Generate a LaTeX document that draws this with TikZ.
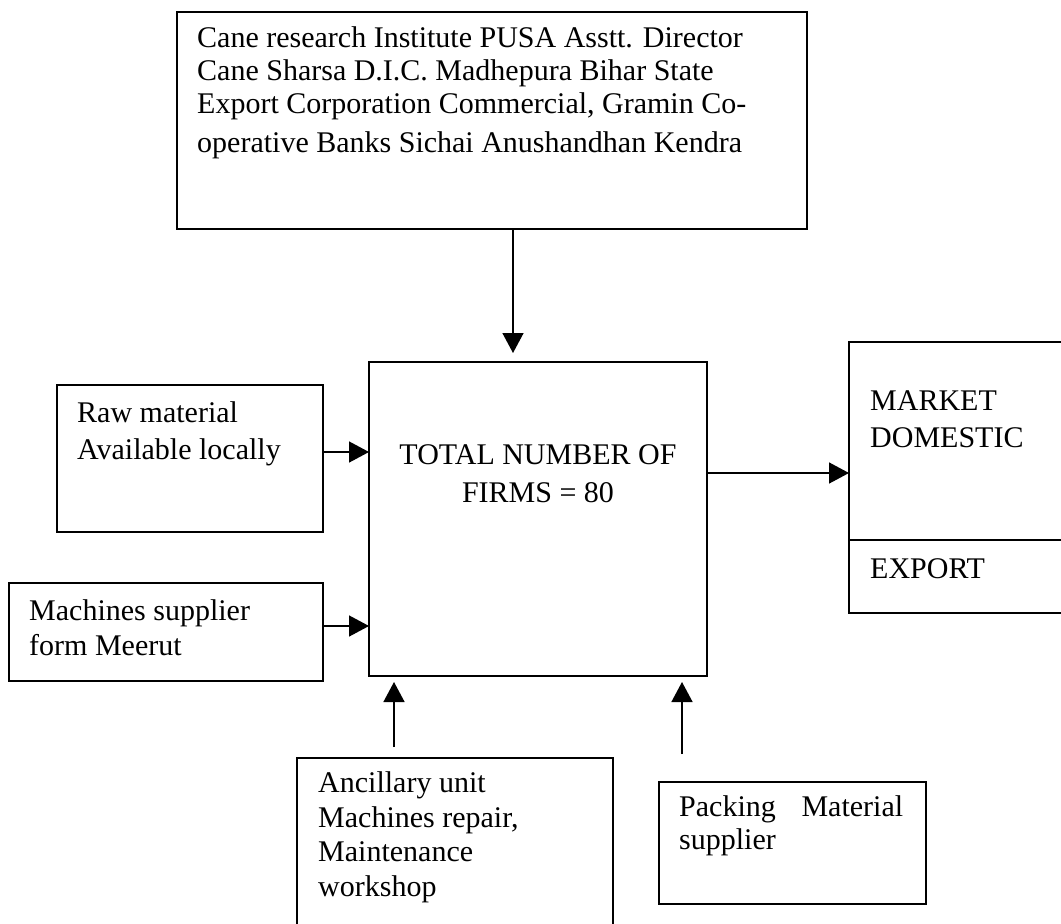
\documentclass[tikz,border=0pt]{standalone}
\usepackage{fontspec}
\setmainfont{Liberation Serif}
\usetikzlibrary{arrows.meta}

\begin{document}
\begin{tikzpicture}[x=1pt,y=-1pt,
        box/.style={draw,line width=1.5pt,inner sep=0pt,outer sep=0pt,anchor=north west},
        txt/.style={anchor=base west,inner sep=0pt,align=left,font=\fontsize{30}{37}\selectfont},
        flow/.style={line width=1.5pt,-{Triangle[length=20pt,width=21pt]}}]
        \useasboundingbox (0,0) rectangle (1061,924);
        % boxes
        \node [box,minimum width=630pt,minimum height=217pt] (inst) at (177,12) {};
        \node [box,minimum width=338pt,minimum height=314pt] (firms) at (369,362) {};
        \node [box,minimum width=266pt,minimum height=147pt] (raw) at (57,385) {};
        \node [box,minimum width=314pt,minimum height=98pt] (mach) at (9,583) {};
        \node [box,minimum width=215pt,minimum height=198pt] (market) at (849,342) {};
        \node [box,minimum width=215pt,minimum height=73pt] (export) at (849,540) {};
        \node [box,minimum width=316pt,minimum height=180pt] (anc) at (297,758) {};
        \node [box,minimum width=267pt,minimum height=122pt] (pack) at (659,782) {};
        % texts (placed at the baseline of their last line)
        \node [txt,font=\fontsize{30}{33}\selectfont] (inst-t) at (197,152) {Cane research Institute PUSA Asstt. Director\\Cane Sharsa D.I.C. Madhepura Bihar State\\Export Corporation Commercial, Gramin Co-\\[6pt]operative Banks Sichai Anushandhan Kendra};
        \node [txt,anchor=base,align=center,font=\fontsize{30}{38}\selectfont] (firms-t) at (538,502) {TOTAL NUMBER OF\\FIRMS = 80};
        \node [txt] (raw-t) at (77,459) {Raw material\\Available locally};
        \node [txt,font=\fontsize{30}{35}\selectfont] (mach-t) at (29,655) {Machines supplier\\form Meerut};
        \node [txt] (market-t) at (870,447) {MARKET\\DOMESTIC};
        \node [txt] (export-t) at (870,578) {EXPORT};
        \node [txt,font=\fontsize{30}{34.5}\selectfont] (anc-t) at (318,896) {Ancillary unit\\Machines repair,\\Maintenance\\workshop};
        \node [txt,font=\fontsize{30}{33}\selectfont] (pack-t) at (679,849) {\makebox[224pt][s]{Packing Material}\\supplier};
        % connectors
        \coordinate (down) at (513,0);
        \coordinate (rawin) at (0,452);
        \coordinate (machin) at (0,626);
        \coordinate (out) at (0,473);
        \coordinate (ancin) at (394,0);
        \coordinate (packin) at (682,0);
        \draw [flow,shorten >=9pt] (inst.south -| down) -- (firms.north -| down);
        \draw [flow] (raw.east |- rawin) -- (firms.west |- rawin);
        \draw [flow] (mach.east |- machin) -- (firms.west |- machin);
        \draw [flow] (firms.east |- out) -- (market.west |- out);
        \draw [flow,shorten <=11pt,shorten >=6pt] (anc.north -| ancin) -- (firms.south -| ancin);
        \draw [flow,shorten <=28pt,shorten >=6pt] (pack.north -| packin) -- (firms.south -| packin);
\end{tikzpicture}
\end{document}
